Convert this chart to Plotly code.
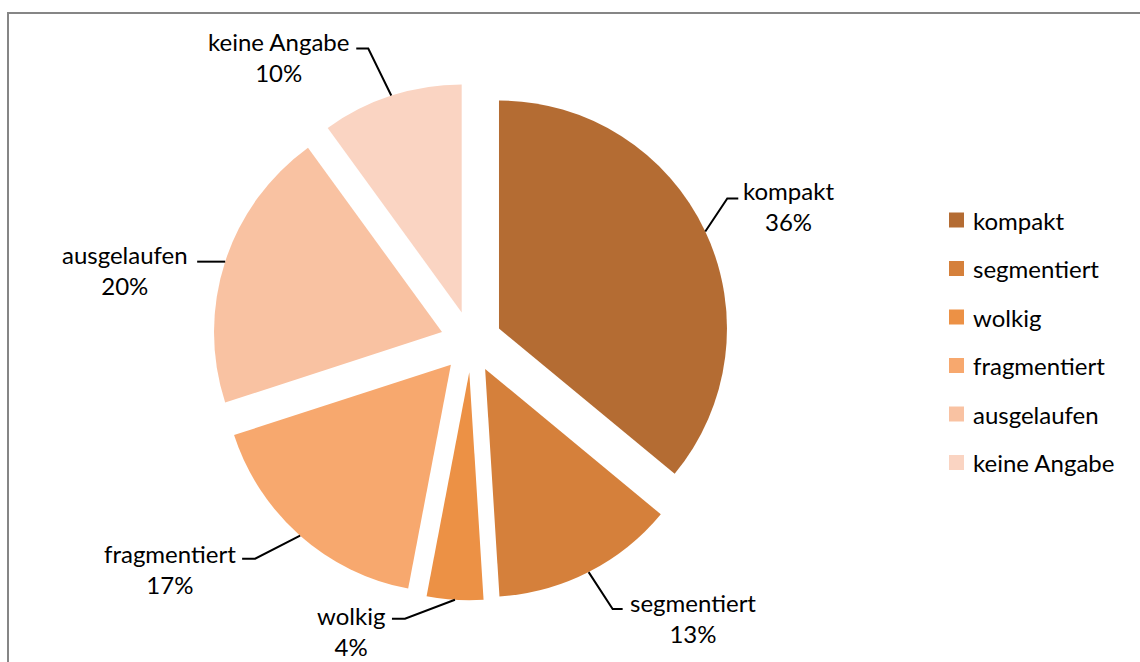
import math
import plotly.graph_objects as go

# ---- data ----
categories = ["kompakt", "segmentiert", "wolkig", "fragmentiert", "ausgelaufen", "keine Angabe"]
values = [36, 13, 4, 17, 20, 10]
colors = ["#B46C33", "#D5803B", "#EC9145", "#F7A86E", "#F9C2A2", "#FAD4C2"]

# ---- layout constants ----
W, H = 1140, 662
PULL = 0.1347
FONT = "Lato"
FS = 24
# pie box (pixels): centre and half-size
CX, CY, HALF = 471.2, 341.6, 258.7
dom_x = [(CX - HALF) / W, (CX + HALF) / W]
dom_y = [1 - (CY + HALF) / H, 1 - (CY - HALF) / H]

# replicate plotly's pie geometry to place callouts
box = min(W * (dom_x[1] - dom_x[0]), H * (dom_y[1] - dom_y[0]))
R = box / (2 + 2 * PULL)
cx = W * (dom_x[0] + dom_x[1]) / 2
cy = H * (1 - dom_y[0]) - H * (dom_y[1] - dom_y[0]) / 2

# callout layout per slice (pixel offsets from the slice's outer mid point):
# (elbow_dx, elbow_dy, end_dx, label_dx, label_dy)
callout = {
    "kompakt": (22, -33, 33, 83, -25),
    "segmentiert": (24, 37, 34, 104, 46),
    "wolkig": (-50, 19, -63, -104, 31),
    "fragmentiert": (-45, 23, -58, -130, 33),
    "ausgelaufen": (-15, 0, -28, -100, 8),
    "keine Angabe": (-23, -47, -35, -113, -39),
}


def px(x, y):
    return x / W, 1 - y / H


fig = go.Figure(
    go.Pie(
        labels=categories,
        values=values,
        marker=dict(colors=colors, line=dict(width=0)),
        pull=[PULL] * len(values),
        sort=False,
        direction="clockwise",
        rotation=0,
        textinfo="none",
        hoverinfo="label+percent",
        domain=dict(x=dom_x, y=dom_y),
        showlegend=False,
    )
)

total = sum(values)
shapes = []
annotations = []
cum = 0
for name, v in zip(categories, values):
    mid = (cum + v / 2) / total * 2 * math.pi
    cum += v
    ax = cx + R * (1 + PULL) * math.sin(mid)
    ay = cy - R * (1 + PULL) * math.cos(mid)
    edx, edy, endx, ldx, ldy = callout[name]
    ex, ey = ax + edx, ay + edy
    hx = ax + endx
    p0, p1, p2 = px(ax, ay), px(ex, ey), px(hx, ey)
    shapes.append(dict(
        type="path", xref="paper", yref="paper",
        path=f"M {p0[0]},{p0[1]} L {p1[0]},{p1[1]} L {p2[0]},{p2[1]}",
        line=dict(color="#000000", width=2),
    ))
    lx, ly = px(ax + ldx, ay + ldy)
    pct = round(v / total * 100)
    annotations.append(dict(
        x=lx, y=ly, xref="paper", yref="paper", showarrow=False,
        xanchor="center", yanchor="middle", align="center",
        text=f"{name}<br>{pct}%",
        font=dict(family=FONT, size=FS, color="#000000"),
    ))

# custom legend
LEG_X, LEG_Y0, LEG_STEP, SQ = 949, 220, 48.5, 15
for i, (name, col) in enumerate(zip(categories, colors)):
    yc = LEG_Y0 + i * LEG_STEP
    a, b = px(LEG_X, yc - SQ / 2), px(LEG_X + SQ, yc + SQ / 2)
    shapes.append(dict(type="rect", xref="paper", yref="paper",
                       x0=a[0], x1=b[0], y0=b[1], y1=a[1],
                       fillcolor=col, line=dict(width=0)))
    t = px(LEG_X + SQ + 7, yc)
    annotations.append(dict(
        x=t[0], y=t[1], xref="paper", yref="paper", showarrow=False,
        xanchor="left", yanchor="middle", text=name,
        font=dict(family=FONT, size=FS, color="#000000"),
    ))

# chart border (partly outside the visible page, as in the reference)
b0 = px(8, 13)
shapes.append(dict(type="rect", xref="paper", yref="paper",
                   x0=b0[0], x1=1.2, y0=-0.2, y1=b0[1],
                   line=dict(color="#868686", width=2), fillcolor="rgba(0,0,0,0)"))

fig.update_layout(
    width=W, height=H,
    margin=dict(l=0, r=0, t=0, b=0),
    paper_bgcolor="white", plot_bgcolor="white",
    shapes=shapes, annotations=annotations,
    font=dict(family=FONT, size=FS, color="#000000"),
)

fig.write_html("out.html")
